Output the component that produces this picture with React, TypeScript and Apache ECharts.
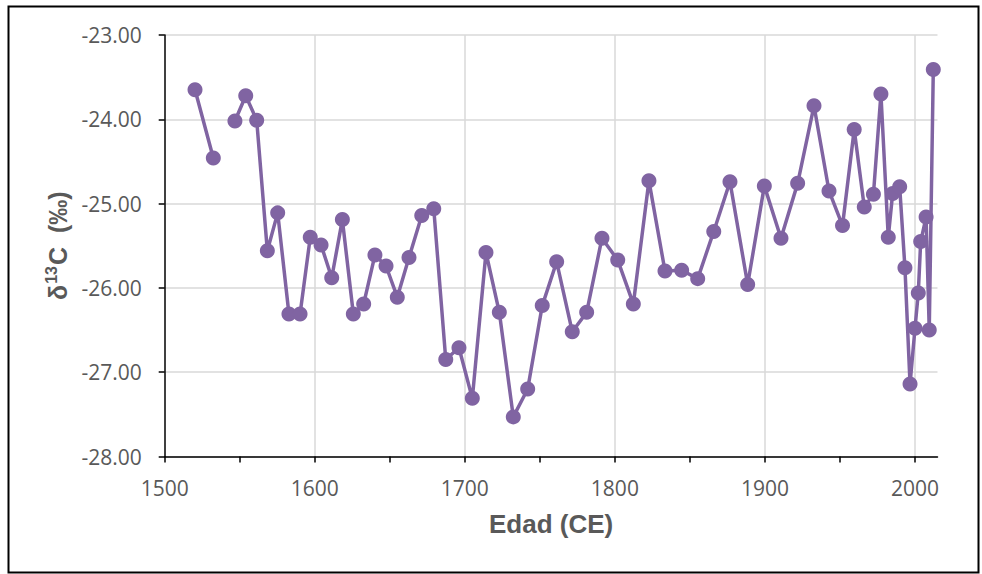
import { useEffect, useRef } from "react";
import * as echarts from "echarts";

// Sample ages (CE); null marks the break in the record
const years: (number | null)[] = [
  1520.2, 1532.4, null, 1546.8, 1554.0, 1561.3, 1568.4, 1575.3, 1582.8, 1590.2,
  1597.0, 1604.2, 1611.3, 1618.4, 1625.7, 1632.6, 1640.1, 1647.5, 1655.0, 1662.8,
  1671.3, 1679.3, 1687.3, 1696.1, 1705.0, 1714.1, 1723.0, 1732.3, 1741.9, 1751.6,
  1761.2, 1771.6, 1781.2, 1791.4, 1801.9, 1812.3, 1822.7, 1833.4, 1844.5, 1855.2,
  1865.9, 1876.7, 1888.5, 1899.6, 1910.7, 1921.8, 1932.7, 1942.7, 1951.7, 1959.5,
  1966.2, 1972.3, 1977.3, 1982.2, 1985.1, 1989.8, 1993.3, 1996.7, 2000.0, 2002.2,
  2003.8, 2007.4, 2009.5, 2012.2,
];

// δ13C values (‰)
const d13C: (number | null)[] = [
  -23.65, -24.46, null, -24.02, -23.72, -24.01, -25.56, -25.11, -26.31, -26.31,
  -25.40, -25.49, -25.88, -25.19, -26.31, -26.19, -25.61, -25.74, -26.11, -25.64,
  -25.14, -25.06, -26.85, -26.71, -27.31, -25.58, -26.29, -27.53, -27.20, -26.21,
  -25.69, -26.52, -26.29, -25.41, -25.67, -26.19, -24.73, -25.80, -25.79, -25.89,
  -25.33, -24.74, -25.96, -24.79, -25.41, -24.76, -23.84, -24.85, -25.26, -24.12,
  -25.04, -24.89, -23.70, -25.40, -24.88, -24.80, -25.76, -27.14, -26.48, -26.06,
  -25.45, -25.16, -26.50, -23.41,
];

const xTickYears = [1500, 1550, 1600, 1650, 1700, 1750, 1800, 1850, 1900, 1950, 2000];
const xLabelYears = [1500, 1600, 1700, 1800, 1900, 2000];

const LABEL_GRAY = "#595959";
const PURPLE = "#8064A2";
const GRID_GRAY = "#d9d9d9";
const X_MIN = 1500;
const X_MAX = 2015;

export default function App() {
  const ref = useRef<HTMLDivElement>(null);

  useEffect(() => {
    document.body.style.margin = "0";
    if (!ref.current) return;
    const chart = echarts.init(ref.current, undefined, { renderer: "svg" });

    const seriesData = years.map((yr, i) => {
      const v = d13C[i];
      return yr == null || v == null ? ["-", "-"] : [yr, v];
    });

    const titleFont = "Liberation Sans, Arial, sans-serif";
    const tickFont = "Open Sans, sans-serif";

    chart.setOption({
      animation: false,
      backgroundColor: "#ffffff",
      graphic: [
        {
          type: "rect",
          silent: true,
          shape: { x: 8.5, y: 6.5, width: 970, height: 566 },
          style: { fill: "none", stroke: "#000000", lineWidth: 2 },
        },
      ],
      grid: { left: 164.7, top: 35, right: 44.5, bottom: 117.5, containLabel: false },
      xAxis: [
        {
          // visible axis: ticks every 50 years, labels every century
          type: "value",
          min: X_MIN,
          max: X_MAX,
          interval: 100,
          name: "Edad (CE)",
          nameLocation: "middle",
          nameGap: 54,
          nameTextStyle: {
            color: LABEL_GRAY,
            fontFamily: titleFont,
            fontWeight: "bold",
            fontSize: 26,
          },
          axisLine: { show: true, onZero: false, lineStyle: { color: "#000000", width: 1.5 } },
          axisTick: {
            show: true,
            length: 6,
            customValues: xTickYears,
            lineStyle: { color: "#000000", width: 1.5 },
          },
          axisLabel: {
            customValues: xLabelYears,
            margin: 21,
            color: LABEL_GRAY,
            fontFamily: tickFont,
            fontSize: 21,
            formatter: (v: number) => String(v),
          },
          splitLine: { show: false },
          z: 3,
        },
        {
          // century gridlines only
          type: "value",
          min: X_MIN,
          max: X_MAX,
          interval: 100,
          position: "bottom",
          axisLine: { show: false },
          axisTick: { show: false },
          axisLabel: { show: false },
          splitLine: {
            show: true,
            showMinLine: false,
            showMaxLine: false,
            lineStyle: { color: GRID_GRAY, width: 1.5 },
          },
        },
      ],
      yAxis: {
        type: "value",
        min: -28,
        max: -23,
        interval: 1,
        name: "{a|δ}{s|13}{a|C  (‰)}",
        nameLocation: "middle",
        nameGap: 92,
        nameRotate: 90,
        nameTextStyle: {
          color: LABEL_GRAY,
          fontFamily: titleFont,
          fontWeight: "bold",
          fontSize: 25,
          rich: {
            a: {
              color: LABEL_GRAY,
              fontFamily: titleFont,
              fontWeight: "bold",
              fontSize: 25,
              lineHeight: 29,
            },
            s: {
              color: LABEL_GRAY,
              fontFamily: titleFont,
              fontWeight: "bold",
              fontSize: 16,
              lineHeight: 29,
              verticalAlign: "top",
              padding: [0, 1, 0, 1],
            },
          },
        },
        axisLine: { show: true, onZero: false, lineStyle: { color: "#000000", width: 1.5 } },
        axisTick: { show: true, length: 6, lineStyle: { color: "#000000", width: 1.5 } },
        axisLabel: {
          margin: 23,
          color: LABEL_GRAY,
          fontFamily: tickFont,
          fontSize: 21,
          formatter: (v: number) => v.toFixed(2),
        },
        splitLine: {
          show: true,
          lineStyle: { color: GRID_GRAY, width: 1.5 },
        },
      },
      series: [
        {
          type: "line",
          xAxisIndex: 0,
          data: seriesData,
          connectNulls: false,
          symbol: "circle",
          symbolSize: 15,
          itemStyle: { color: PURPLE },
          lineStyle: { color: PURPLE, width: 3.5 },
          emphasis: { disabled: true },
          z: 4,
        },
      ],
    });

    return () => {
      chart.dispose();
    };
  }, []);

  return <div ref={ref} style={{ width: 982, height: 574 }} />;
}
